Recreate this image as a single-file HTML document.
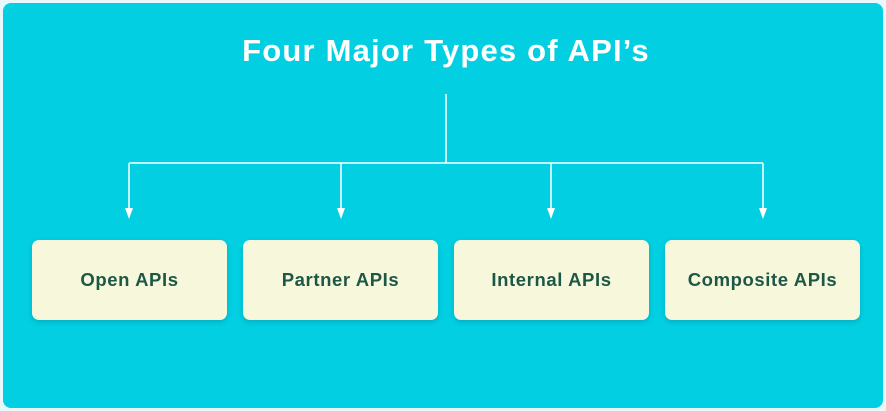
<!DOCTYPE html>
<html><head><style>
body{margin:0;width:886px;height:411px;background:#e8f7f9;overflow:hidden;font-family:"Liberation Sans",sans-serif}
.panel{position:absolute;left:3px;top:3px;width:880px;height:405px;background:#02cfe1;border-radius:8px}
.t{position:absolute;left:0;width:892px;top:33px;text-align:center;color:#fff;font-weight:bold;font-size:31px;letter-spacing:1.2px}
.b{position:absolute;top:240px;width:195px;height:80px;background:#f7f7db;border-radius:7px;box-shadow:0 2px 5px rgba(0,80,100,.25);display:flex;align-items:center;justify-content:center;color:#1d5847;font-weight:bold;font-size:18.5px;letter-spacing:0.6px}
svg{position:absolute;left:0;top:0}
</style></head><body>
<div class="panel"></div>
<div class="t">Four Major Types of API’s</div>
<svg width="886" height="411">
<g stroke="#fff" stroke-width="1.5" fill="none">
<line x1="446" y1="94" x2="446" y2="163"/>
<line x1="129" y1="163" x2="763" y2="163"/>
<line x1="129" y1="163" x2="129" y2="214"/>
<line x1="341" y1="163" x2="341" y2="214"/>
<line x1="551" y1="163" x2="551" y2="214"/>
<line x1="763" y1="163" x2="763" y2="214"/>
</g>
<g fill="#fff">
<polygon points="125,208 133,208 129,219"/>
<polygon points="337,208 345,208 341,219"/>
<polygon points="547,208 555,208 551,219"/>
<polygon points="759,208 767,208 763,219"/>
</g>
</svg>
<div class="b" style="left:32px">Open APIs</div>
<div class="b" style="left:243px">Partner APIs</div>
<div class="b" style="left:454px">Internal APIs</div>
<div class="b" style="left:665px">Composite APIs</div>
</body></html>
